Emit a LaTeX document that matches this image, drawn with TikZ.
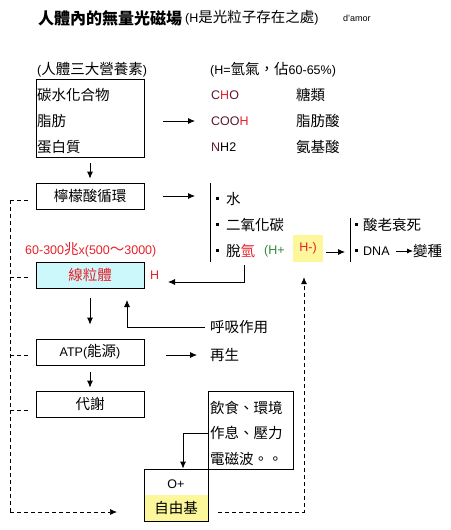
\documentclass[tikz,border=0pt]{standalone}
\usepackage{fontspec}
\setmainfont{Liberation Sans}
\newfontfamily\cjk{Noto Sans CJK TC}
\usetikzlibrary{arrows.meta,calc}
\newcommand\zh[1]{{\cjk\fontsize{14.5}{16}\selectfont #1}}
\definecolor{myred}{HTML}{E8202A}
\definecolor{mygreen}{HTML}{2E8B3A}
\definecolor{mycyan}{HTML}{CCF7FB}
\definecolor{myyellow}{HTML}{FBF79A}
\definecolor{maroon}{HTML}{5A1830}
\begin{document}
\begin{tikzpicture}[x=1pt,y=-1pt,
  every node/.style={inner sep=0pt, font=\fontsize{12.5}{15}\selectfont},
  txt/.style={anchor=west},
  box/.style={draw, line width=0.8pt, minimum width=108pt, minimum height=26pt},
  arr/.style={line width=0.8pt, -{Latex[length=7pt,width=6pt]}},
  ln/.style={line width=0.8pt},
  dsh/.style={line width=0.7pt, dash pattern=on 4pt off 3pt},
  bul/.style={fill=black, minimum size=3pt, inner sep=0pt}]
\useasboundingbox (0,0) rectangle (450,530);

% title
\node[txt] (title) at (38,18) {\cjk\fontsize{16}{18}\selectfont\bfseries 人體內的無量光磁場};
\node[txt] (sub) at (185,18) {(H\zh{是光粒子存在之處})};
\node[txt, font=\fontsize{9}{10}\selectfont] (amor) at (343,18) {d'amor};

% nutrients
\node[txt] (h1) at (37,70) {(\zh{人體三大營養素})};
\node[box, minimum height=78pt] (b1) at (90,118) {};
\node[txt] (t1a) at (37,95) {\zh{碳水化合物}};
\node[txt] (t1b) at (37,121) {\zh{脂肪}};
\node[txt] (t1c) at (37,147) {\zh{蛋白質}};

\node[txt] (h2) at (210,70) {(H=\zh{氫氣，佔}60-65\%)};
\node[txt] (cho) at (211,95) {\textcolor{maroon}{C}\textcolor{myred}{H}\textcolor{maroon}{O}};
\node[txt] (cooh) at (211,121) {\textcolor{maroon}{COO}\textcolor{myred}{H}};
\node[txt] (nh2) at (211,147) {\textcolor{maroon}{N}H2};
\node[txt] (s1) at (296,95) {\zh{糖類}};
\node[txt] (s2) at (296,121) {\zh{脂肪酸}};
\node[txt] (s3) at (296,147) {\zh{氨基酸}};
\coordinate (a1s) at (163,121);
\coordinate (a1e) at (195,121);
\draw[arr] (a1s) -- (a1e);

% citric cycle
\node[box] (b2) at (90,196) {\zh{檸檬酸循環}};
\draw[arr] ([yshift=-6pt]b1.south) -- ([yshift=4pt]b2.north);
\coordinate (a2s) at (163,196);
\coordinate (a2e) at (195,196);
\draw[arr] (a2s) -- (a2e);
\coordinate (v1t) at (210,183);
\coordinate (v1b) at (210,262);
\draw[ln] (v1t) -- (v1b);
\node[bul] (q1) at (217.5,198) {};
\node[bul] (q2) at (217.5,224) {};
\node[bul] (q3) at (217.5,250) {};
\node[txt] (w1) at (226,199) {\zh{水}};
\node[txt] (w2) at (226,225) {\zh{二氧化碳}};
\node[txt] (w3) at (226,251) {\zh{脫\textcolor{myred}{氫}}};
\node[txt, text=mygreen] (hp) at (264,251) {(H+};
\node[fill=myyellow, minimum width=30pt, minimum height=27pt, text=myred] (hm) at (308,248.5) {H-)};
\coordinate (a3s) at (326,252);
\coordinate (a3e) at (345,252);
\draw[arr] (a3s) -- (a3e);
\coordinate (v2t) at (350,218);
\coordinate (v2b) at (350,262);
\draw[ln] (v2t) -- (v2b);
\node[bul] (q4) at (356.5,224) {};
\node[bul] (q5) at (356.5,250) {};
\node[txt] (x1) at (363,225) {\zh{酸老衰死}};
\node[txt] (dna) at (363,251) {DNA};
\node[txt] (bz) at (413,251) {\zh{變種}};
\draw[line width=0.8pt, -{Latex[length=6pt,width=5pt]}] ([xshift=6pt]dna.east) -- (bz.west);

% mitochondria
\node[txt, text=myred] (num) at (25,250) {60-300\zh{兆}x(500\zh{～}3000)};
\node[box, fill=mycyan, text=myred] (b3) at (90,275) {\zh{線粒體}};
\node[txt, text=myred] (hl) at (150,275) {H};
\coordinate (c1) at (244,265);
\coordinate (c2) at (168,282);
\draw[arr] (c1) |- (c2);

% ATP
\node[box] (b4) at (90,352) {ATP(\zh{能源})};
\draw[arr] ([yshift=-10pt]b3.south) -- ([yshift=14pt]b4.north);
\node[txt] (hx) at (210,327) {\zh{呼吸作用}};
\coordinate (c3) at (127,300);
\draw[arr] ([xshift=-5pt]hx.west) -| (c3);
\coordinate (a4s) at (166,355);
\node[txt] (zs) at (210,355) {\zh{再生}};
\draw[arr] (a4s) -- ([xshift=-13pt]zs.west);

% metabolism
\node[box] (b5) at (90,404) {\zh{代謝}};
\draw[arr] ([yshift=-7pt]b4.south) -- ([yshift=3pt]b5.north);

% environment box
\node[draw, line width=0.8pt, minimum width=85pt, minimum height=78pt] (b6) at (250.5,430) {};
\node[txt] (e1) at (210,408) {\zh{飲食、環境}};
\node[txt] (e2) at (210,433) {\zh{作息、壓力}};
\node[txt] (e3) at (210,459) {\zh{電磁波。。}};

% free radical box
\node[fill=myyellow, minimum width=64pt, minimum height=26pt] (yb) at (176,508) {\zh{自由基}};
\node[draw, line width=0.8pt, minimum width=64pt, minimum height=52pt] (b7) at (176,495) {};
\node (op) at (176,484) {O+};
\coordinate (c4) at (183,433);
\draw[ln] (b6.west |- c4) -- (c4);
\draw[arr] (c4) -- (c4 |- b7.north);

% dashed feedback lines
\coordinate (d0) at (10,200);
\coordinate (d1) at (10,277);
\coordinate (d2) at (10,355);
\coordinate (d3) at (10,410);
\coordinate (d4) at (10,512);
\draw[dsh] (d0) -- (28,200);
\draw[dsh] (d1) -- (28,277);
\draw[dsh] (d2) -- (28,355);
\draw[dsh] (d3) -- (28,410);
\draw[dsh] (d0) -- (d4);
\draw[dsh, -{Latex[length=7pt,width=6pt]}] (d4) -- (117,512);
\coordinate (r0) at (218,512);
\coordinate (r1) at (304,512);
\draw[dsh, -{Latex[length=7pt,width=6pt]}] (r0) -- (r1) -- ([yshift=-15pt]hm.south -| r1);
\end{tikzpicture}
\end{document}
